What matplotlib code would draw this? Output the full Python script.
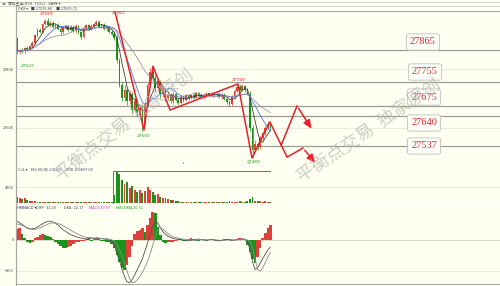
import numpy as np
import pandas as pd
import matplotlib
matplotlib.use("Agg")
import matplotlib.pyplot as plt
from matplotlib.lines import Line2D

plt.rcParams['font.family'] = ['Noto Sans CJK SC', 'DejaVu Sans']

# candle data (1 minute bars)
opens = [27905, 27858, 27866, 27860, 27872, 27868, 27878, 27890, 27915, 27935,
         27928, 27955, 27965, 27950, 27958, 27945, 27952, 27938, 27925, 27940,
         27947, 27935, 27944, 27930, 27948, 27925, 27910, 27940, 27950, 27938,
         27948, 27955, 27962, 27945, 27950, 27936, 27942, 27928, 27920, 27905,
         27830, 27745, 27700, 27730, 27690, 27715, 27660, 27690, 27650, 27668,
         27615, 27680, 27745, 27790, 27770, 27735, 27755, 27715, 27730, 27700,
         27712, 27690, 27715, 27695, 27685, 27705, 27695, 27710, 27700, 27712,
         27705, 27718, 27710, 27704, 27712, 27718, 27708, 27715, 27710, 27716,
         27705, 27712, 27698, 27688, 27680, 27705, 27725, 27738, 27730, 27742,
         27728, 27715, 27600, 27525, 27545, 27535, 27565, 27580, 27600, 27612]
closes = [27858, 27866, 27860, 27872, 27868, 27878, 27890, 27915, 27935, 27928,
          27955, 27965, 27950, 27958, 27945, 27952, 27938, 27925, 27940, 27947,
          27935, 27944, 27930, 27948, 27925, 27910, 27940, 27950, 27938, 27948,
          27955, 27962, 27945, 27950, 27936, 27942, 27928, 27920, 27905, 27830,
          27745, 27700, 27730, 27690, 27715, 27660, 27690, 27650, 27668, 27615,
          27680, 27745, 27790, 27770, 27735, 27755, 27715, 27730, 27700, 27712,
          27690, 27715, 27695, 27685, 27705, 27695, 27710, 27700, 27712, 27705,
          27718, 27710, 27704, 27712, 27718, 27708, 27715, 27710, 27716, 27705,
          27712, 27698, 27688, 27680, 27705, 27725, 27738, 27730, 27742, 27728,
          27715, 27600, 27525, 27545, 27535, 27565, 27580, 27600, 27612, 27598]
wick_up = [5, 4, 6, 3, 5, 4, 6, 4, 5, 6, 4, 7, 11, 5, 6, 4, 5, 4, 6, 5,
           4, 6, 5, 7, 4, 5, 6, 4, 5, 6, 4, 6, 5, 4, 6, 5, 4, 5, 5, 12,
           8, 10, 15, 6, 12, 8, 10, 6, 9, 8, 10, 9, 12, 20, 8, 14, 7, 9, 6, 8,
           5, 6, 4, 7, 5, 6, 4, 5, 4, 6, 5, 4, 6, 5, 4, 5, 6, 4, 5, 4,
           6, 5, 4, 6, 5, 7, 6, 12, 6, 5, 6, 10, 8, 12, 6, 9, 7, 6, 10, 8]
wick_dn = [6, 5, 4, 6, 5, 4, 5, 6, 5, 4, 6, 5, 4, 6, 5, 6, 4, 7, 5, 4,
           6, 5, 4, 6, 5, 7, 4, 5, 6, 4, 5, 4, 6, 5, 4, 6, 5, 4, 6, 8,
           7, 10, 8, 12, 9, 14, 8, 10, 22, 27, 6, 8, 7, 10, 12, 8, 14, 9, 10, 7,
           6, 8, 5, 9, 6, 7, 5, 6, 4, 7, 5, 6, 4, 5, 6, 4, 5, 6, 5, 4,
           6, 5, 7, 8, 5, 6, 4, 5, 6, 7, 5, 12, 29, 8, 10, 7, 6, 5, 6, 7]
volume = [1800, 1500, 1200, 1600, 900, 700, 600, 500, 400, 300,
          350, 400, 300, 250, 300, 200, 250, 300, 200, 250,
          200, 300, 250, 200, 300, 400, 300, 250, 200, 300,
          250, 300, 200, 250, 300, 250, 300, 400, 2500, 9300,
          8600, 7000, 5800, 6200, 4500, 5000, 3800, 3300, 4000, 3000,
          3500, 4800, 3800, 3200, 2400, 2600, 1900, 1600, 1500, 1200,
          900, 1000, 700, 500, 400, 350, 300, 250, 300, 200,
          250, 200, 300, 250, 200, 300, 250, 200, 300, 250,
          300, 350, 400, 500, 450, 400, 350, 500, 400, 350,
          500, 1200, 1800, 700, 500, 600, 400, 500, 450, 350]

# HMMACD
diff = [61, 56, 50, 44, 38, 35, 36, 38, 42, 47, 52, 57, 60, 61, 58, 54, 48, 40, 33, 28,
        22, 17, 14, 11, 8, 6, 5, 3, 4, 6, 5, 7, 6, 4, 3, 2, 0, -4, -15, -45,
        -65, -95, -118, -135, -138, -128, -112, -95, -78, -60,
        -35, -10, 18, 45, 58, 55, 40, 27, 18, 12,
        8, 5, 3, 2, 1, 0, -2, -3, -1, 0, 2, 3, 1, 0, -1, 1, 2, 0, -2, -3,
        -1, 0, 2, 1, -1, 0, 1, 2, 4, 2, -5, -30, -70, -95, -90, -75, -60, -45, -32, -23]
dea = [52, 50, 47, 44, 40, 36, 34, 34, 36, 39, 43, 47, 51, 54, 55, 55, 53, 50, 46, 41,
       36, 31, 27, 22, 18, 14, 11, 9, 8, 7, 6, 6, 6, 5, 5, 4, 3, 1, -4, -15,
       -30, -50, -75, -100, -125, -138, -136, -128, -118, -104,
       -88, -68, -45, -18, 10, 35, 40, 35, 28, 20,
       14, 10, 8, 6, 4, 3, 2, 1, 0, 0, 0, 1, 1, 1, 0, 0, 1, 1, 0, -1,
       -1, -1, 0, 0, 0, 0, 0, 1, 1, 2, 0, -6, -25, -60, -95, -100, -90, -72, -55, -40]
hist = [35, 40, 20, 5, -8, -10, -6, 5, 10, 15, 18, 15, 12, 8, 3, -5, -12, -20, -25, -26,
        -22, -18, -12, -8, -5, -3, -2, 3, 5, -3, 2, 6, 4, -2, -4, -5, -6, -12, -25, -50,
        -70, -92, -97, -80, -55, -20, 20, 28, 32, 37, 26, 48, 70, 90, 86, 43, 16, -6, -10, -8,
        -6, -5, -3, 2, 4, -2, -4, 3, 5, 2, -3, -4, 2, 3, -2, -1, 2, 3, -2, -4,
        -3, 2, 4, 3, -2, 1, 3, 5, 4, 2, -15, -40, -60, -74, -55, -25, 5, 22, 38, 48]

# support / resistance levels and hand drawn paths
levels = [27865, 27755, 27675, 27640, 27537]
zz_x = [38.3, 49.6, 53.1, 59.8, 86.3, 91.8, 98.8, 105.5, 111.7, 117.2]
zz_y = [27995, 27592, 27810, 27660, 27749, 27496, 27619, 27499, 27530, 27472]
br_x = [103.2, 109.4, 115.6]
br_y = [27540, 27674, 27588]
marks = [("27979", 11.5, 27988, "#e02020"), ("27622", 4.0, 27810, "#20a020"),
         ("27962", 39.6, 27991, "#e02020"), ("27560", 49.6, 27571, "#20a020"),
         ("27749", 86.5, 27764, "#e02020"), ("27489", 92.5, 27482, "#20a020")]

UP = "#e0403a"
DN = "#1a931a"
BG = "#fffff2"
GRID = "#a8a8a0"

n = len(closes)
x = np.arange(n)
o = np.array(opens)
c = np.array(closes)
hi = np.maximum(o, c) + np.array(wick_up)
lo = np.minimum(o, c) - np.array(wick_dn)
cols = [UP if c[i] >= o[i] else DN for i in range(n)]

fig = plt.figure(figsize=(5, 2.86), dpi=100, facecolor=BG)
W, H = 500, 286
L = 16 / W
ax = fig.add_axes([L, 1 - 164 / H, 1 - L, 153 / H], facecolor=BG)
axv = fig.add_axes([L, 1 - 204 / H, 1 - L, 40 / H], facecolor=BG, sharex=ax)
axm = fig.add_axes([L, 1 - 284 / H, 1 - L, 80 / H], facecolor=BG, sharex=ax)

for a in (ax, axv, axm):
    for s in ("top", "right"):
        a.spines[s].set_visible(False)
    a.spines["left"].set_color(GRID)
    a.spines["bottom"].set_color(GRID)
    a.spines["left"].set_linewidth(0.8)
    a.spines["bottom"].set_linewidth(0.8)
    a.tick_params(axis="x", length=0, labelbottom=False)
    a.tick_params(axis="y", length=0, labelsize=2.8, pad=1.5, colors="#444444")
ax.spines["top"].set_visible(True)
ax.spines["top"].set_color(GRID)

ax.set_xlim(-0.39, 188.67)
ax.set_ylim(27475.5, 27998.3)

# price panel
ax.set_yticks([27600, 27800])
ax.grid(axis="y", color="#e8e8d8", lw=0.6)
for lv in levels:
    ax.axhline(lv, color="#9a9a96", lw=0.9, zorder=1)
ax.vlines(x, lo, hi, colors=cols, lw=0.5, zorder=3)
body = np.abs(c - o)
ax.bar(x, np.maximum(body, 1.5), bottom=np.minimum(o, c), width=0.7, color=cols, lw=0, zorder=4)
cs = pd.Series(closes, dtype=float)
for per, col in ((5, "#303030"), (10, "#4d6ccf"), (20, "#9a88b0")):
    ax.plot(x, cs.rolling(per, min_periods=1).mean(), color=col, lw=0.55, zorder=5)

RED = "#e8202a"
ax.plot(zz_x[:-1], zz_y[:-1], color=RED, lw=1.1, zorder=6, clip_on=False)
ax.annotate("", xy=(zz_x[-1], zz_y[-1]), xytext=(zz_x[-2], zz_y[-2]),
            arrowprops=dict(arrowstyle="-|>,head_length=0.5,head_width=0.22", color=RED, lw=1.1),
            annotation_clip=False, zorder=6)
ax.plot(br_x[:-1], br_y[:-1], color=RED, lw=1.1, zorder=6)
ax.annotate("", xy=(br_x[-1], br_y[-1]), xytext=(br_x[-2], br_y[-2]),
            arrowprops=dict(arrowstyle="-|>,head_length=0.5,head_width=0.22", color=RED, lw=1.1),
            zorder=6)
for txt, mx, my, mc in marks:
    ax.text(mx, my, txt, color=mc, fontsize=3.2, ha="center", va="center",
            family="DejaVu Sans", zorder=7)
ax.vlines([65, 90.5], 27475.5, 27482, color="#888888", lw=0.6)

# volume panel
axv.set_ylim(-300, 11700)
axv.set_yticks([4700])
axv.grid(axis="y", color="#e8e8d8", lw=0.6)
axv.bar(x, volume, width=0.75, color=cols, lw=0, zorder=3)
axv.plot([37.5, 37.5, 98.8], [0, 9600, 9600], color="#707070", lw=0.7, zorder=4)

# macd panel
axm.set_ylim(-142, 116)
axm.set_yticks([-100, 0])
axm.axhline(0, color="#d8d8cc", lw=0.7, zorder=1)
axm.axhline(-100, color="#e8e8d8", lw=0.6, zorder=1)
hcol = [UP if i == 0 or hist[i] >= hist[i - 1] else DN for i in range(n)]
axm.bar(x, hist, width=1.0, color=hcol, lw=0, zorder=3)
axm.plot(x, diff, color="#505050", lw=0.6, zorder=4)
axm.plot(x, dea, color="#8a8a8a", lw=0.6, zorder=4)

# header lines and texts
for yy in (2, 6):
    fig.add_artist(Line2D([0, 1], [1 - yy / H, 1 - yy / H], color="#d0d0c8", lw=0.6))
fig.add_artist(Line2D([L, L], [0, 1 - 6 / H], color=GRID, lw=0.8))
fig.text(2 / W, 1 - 4 / H, "◂▸  恒指主连(HSI)  T2412   1分钟 ▾", fontsize=2.8, color="#555555", va="center")
fig.text(18 / W, 1 - 8.5 / H, "DKX ▾   ■ 27576.88     ■ 27569.72", fontsize=2.8,
         color="#404060", va="center")
fig.text(18 / W, 1 - 169 / H, "CJL ▾   183.00/45.00(20)     ORD 109067.00", fontsize=2.8,
         color="#404060", va="center")
mt = [("HMMACD ▾", 17, "#303070"), ("DIFF -12.19", 36, "#404040"), ("DEA -22.17", 64, "#404040"),
      ("MACD 19.97", 89, "#d020d0"), ("MACDMA 20.51", 116, "#20a020")]
for t, px, tc in mt:
    fig.text(px / W, 1 - 208 / H, t, fontsize=2.8, color=tc, va="center")

# right side price boxes
boxes = [("27865", 423, 42), ("27755", 425, 72), ("27675", 424, 97),
         ("27640", 424, 123), ("27537", 424, 146)]
for t, px, py in boxes:
    fig.text(px / W, 1 - py / H, t, fontsize=7.5, color="#e02a2a", ha="center", va="center",
             family="Liberation Serif",
             bbox=dict(boxstyle="round,pad=0.35,rounding_size=0.2", fc="#fffffa", ec="#c8c8c0", lw=0.7))

# watermarks
wm = "平衡点交易  独家原创"
fig.text(125 / W, 1 - 125 / H, wm, fontsize=13, color="#b8b8b0", alpha=0.7, rotation=38,
         ha="center", va="center", rotation_mode="anchor")
fig.text(369 / W, 1 - 131 / H, wm, fontsize=13, color="#b8b8b0", alpha=0.7, rotation=34.5,
         ha="center", va="center", rotation_mode="anchor")

fig.savefig("out.png", dpi=100, facecolor=BG)
